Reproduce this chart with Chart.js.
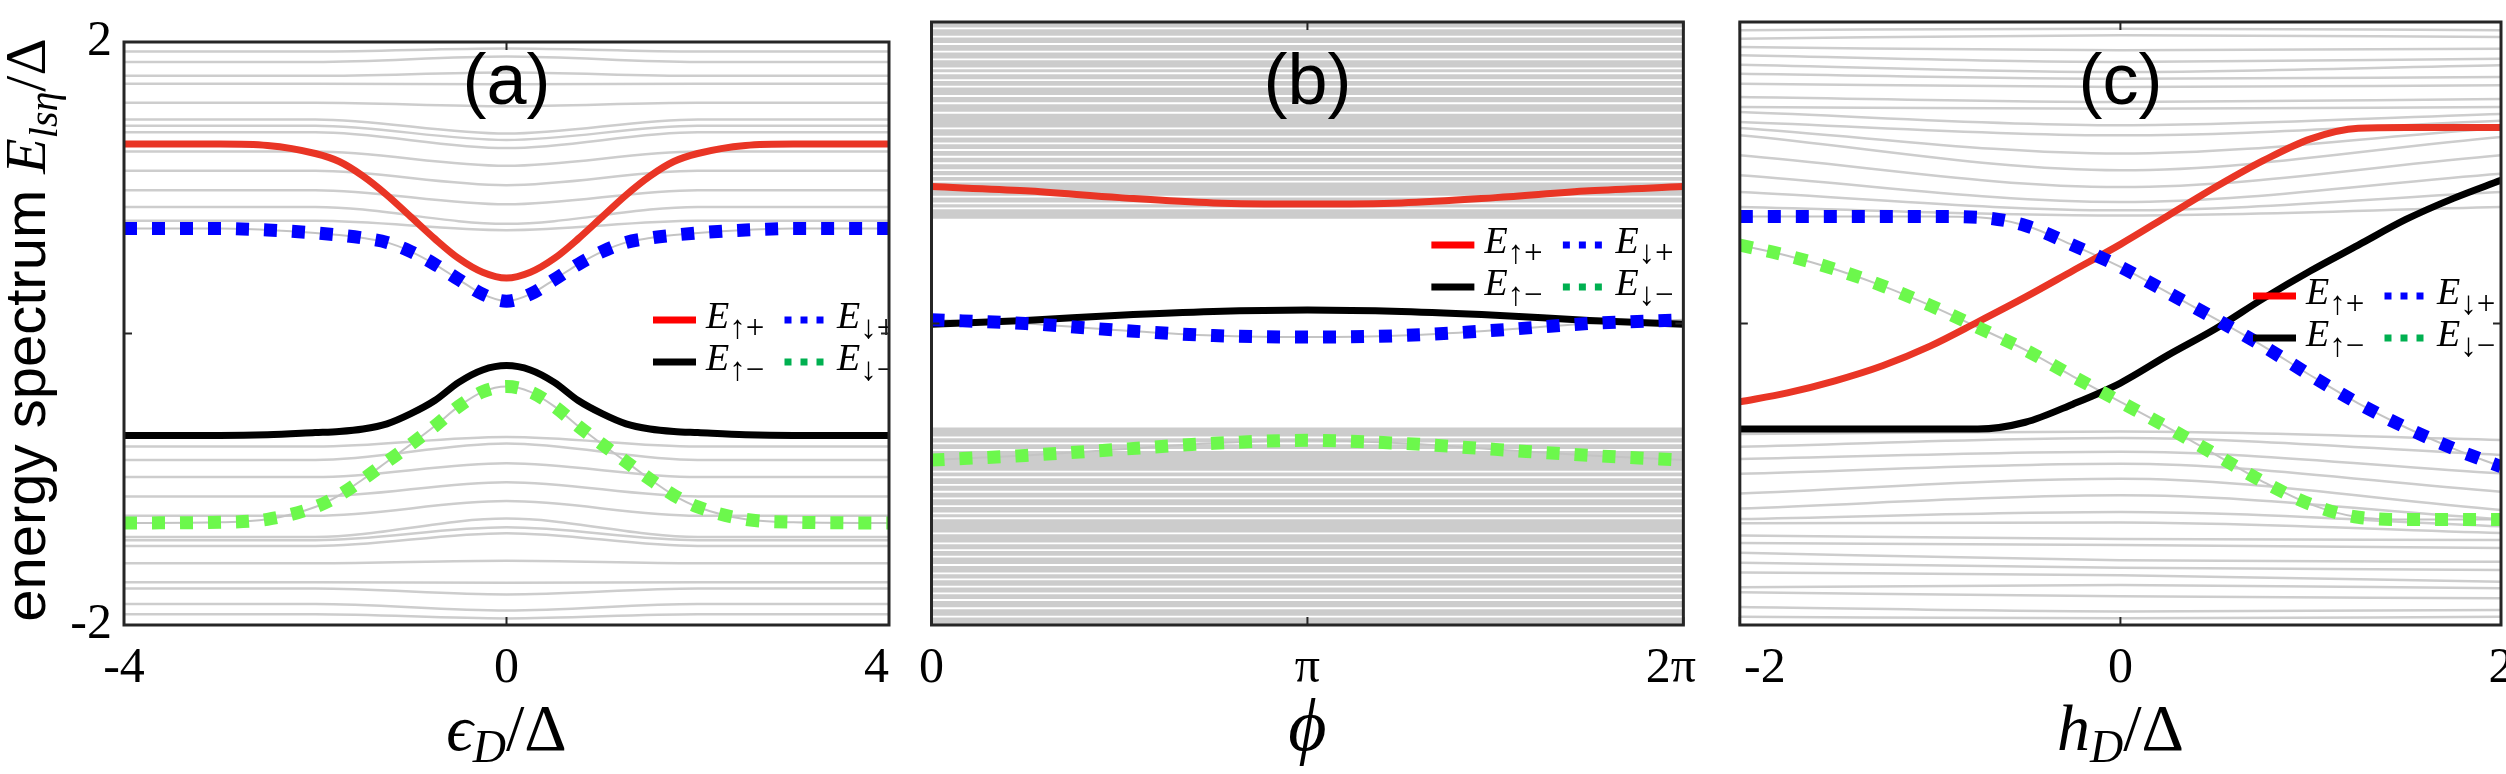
<!DOCTYPE html>
<html>
<head>
<meta charset="utf-8">
<script src="https://cdn.jsdelivr.net/npm/chart.js@4.4.1/dist/chart.umd.min.js"></script>
<style>
html, body { margin: 0; padding: 0; background: #fff; overflow: hidden; width: 2506px; height: 774px; }
canvas { position: absolute; top: 0; }
</style>
</head>
<body>
<canvas id="ca" width="950" height="774" style="left:0px"></canvas>
<canvas id="cb" width="830" height="774" style="left:905px"></canvas>
<canvas id="cc" width="865" height="774" style="left:1680px"></canvas>
<script>
// ---- panel (a): vs eps_D / Delta ----
var epsA   = [-4, -3, -2.5, -2, -1.75, -1.5, -1.25, -1, -0.75, -0.5, -0.25, 0, 0.25, 0.5, 0.75, 1, 1.25, 1.5, 1.75, 2, 2.5, 3, 4];
var redA   = [1.30, 1.30, 1.29, 1.235, 1.18, 1.08, 0.95, 0.80, 0.65, 0.515, 0.42, 0.38, 0.42, 0.515, 0.65, 0.80, 0.95, 1.08, 1.18, 1.235, 1.29, 1.30, 1.30];
var blueA  = [0.72, 0.72, 0.71, 0.69, 0.675, 0.655, 0.625, 0.562, 0.475, 0.37, 0.27, 0.222, 0.27, 0.37, 0.475, 0.562, 0.625, 0.655, 0.675, 0.69, 0.71, 0.72, 0.72];
var blackA = [-0.70, -0.70, -0.695, -0.68, -0.672, -0.655, -0.62, -0.55, -0.46, -0.335, -0.25, -0.22, -0.25, -0.335, -0.46, -0.55, -0.62, -0.655, -0.672, -0.68, -0.695, -0.70, -0.70];
var greenA = [-1.30, -1.295, -1.275, -1.19, -1.11, -1.00, -0.88, -0.76, -0.635, -0.50, -0.40, -0.364, -0.40, -0.50, -0.635, -0.76, -0.88, -1.00, -1.11, -1.19, -1.275, -1.295, -1.30];
// continuum levels (far from the dot level, and at eps_D = 0)
var grayStA     = [-4, -2, 0, 2, 4];
var grayAUpFar  = [1.934, 1.863, 1.768, 1.713, 1.584, 1.469, 1.425, 1.381, 1.248, 1.116, 0.983, 0.868, 0.773];
var grayAUpMid  = [1.955, 1.90, 1.79, 1.71, 1.56, 1.372, 1.328, 1.272, 1.151, 1.018, 0.886, 0.753, 0.709];
var grayALowFar = [-0.775, -0.868, -0.985, -1.118, -1.25, -1.396, -1.418, -1.458, -1.577, -1.706, -1.75, -1.856, -1.926];
var grayALowMid = [-0.71, -0.755, -0.89, -1.02, -1.15, -1.27, -1.33, -1.37, -1.56, -1.71, -1.79, -1.90, -1.955];
var xTicksA = [-4, 0, 4];
var xLabA   = ['-4', '0', '4'];

// ---- panel (b): vs phi ----
var phiB   = [0, 0.785, 1.571, 2.356, 3.142, 3.927, 4.712, 5.498, 6.283];
var redB   = [0.908, 0.88, 0.835, 0.80, 0.793, 0.80, 0.835, 0.88, 0.908];
var blackB = [-0.005, 0.02, 0.055, 0.08, 0.09, 0.08, 0.055, 0.02, -0.005];
var blueB  = [0.025, 0.0, -0.045, -0.08, -0.09, -0.08, -0.045, 0.0, 0.025];
var greenB = [-0.906, -0.875, -0.835, -0.795, -0.775, -0.795, -0.835, -0.875, -0.906];
var bandB  = [0.695, -0.69];
var gapUpB  = [1.958, 1.903, 1.854, 1.803, 1.752, 1.693, 1.660, 1.615, 1.571, 1.509, 1.461, 1.398, 1.295, 1.239, 1.195, 1.151, 1.106, 1.063, 1.018, 0.978, 0.941, 0.841, 0.797, 0.764];
var gapLowB = [-0.755, -0.795, -0.839, -0.983, -1.02, -1.071, -1.116, -1.16, -1.211, -1.259, -1.292, -1.392, -1.458, -1.503, -1.547, -1.602, -1.657, -1.697, -1.746, -1.79, -1.834, -1.889, -1.945];
var xTicksB = [0, 3.1416, 6.2832];
var xLabB   = ['0', 'π', '2π'];

// ---- panel (c): vs h_D / Delta ----
var hC     = [-2, -1.75, -1.5, -1.25, -1, -0.75, -0.5, -0.25, 0, 0.25, 0.5, 0.75, 1, 1.25, 1.5, 1.75, 2];
var redC   = [-0.52, -0.46, -0.38, -0.28, -0.15, 0.01, 0.175, 0.35, 0.525, 0.715, 0.905, 1.08, 1.225, 1.295, 1.30, 1.30, 1.30];
var blueC  = [0.71, 0.71, 0.71, 0.71, 0.71, 0.705, 0.65, 0.52, 0.375, 0.205, 0.03, -0.15, -0.345, -0.53, -0.69, -0.83, -0.95];
var blackC = [-0.70, -0.70, -0.70, -0.70, -0.70, -0.70, -0.655, -0.535, -0.395, -0.21, -0.035, 0.165, 0.35, 0.52, 0.69, 0.83, 0.95];
var greenC = [0.52, 0.45, 0.36, 0.25, 0.12, -0.025, -0.175, -0.35, -0.52, -0.69, -0.87, -1.05, -1.20, -1.285, -1.30, -1.30, -1.30];
var grayStC       = [-2, 0, 2];
var grayCUpLeft   = [1.945, 1.889, 1.834, 1.779, 1.717, 1.657, 1.591, 1.502, 1.436, 1.403, 1.337, 1.297, 1.248, 1.116, 0.983, 0.872, 0.773];
var grayCUpMid    = [1.956, 1.912, 1.812, 1.735, 1.668, 1.624, 1.569, 1.469, 1.425, 1.315, 1.248, 1.127, 1.016, 0.905, 0.806, 0.751, 0.717];
var grayCUpRight  = [1.945, 1.90, 1.823, 1.757, 1.713, 1.635, 1.58, 1.49, 1.436, 1.39, 1.345, 1.297, 1.237, 1.116, 0.994, 0.872, 0.773];
var grayCLowLeft  = [-0.733, -0.817, -0.899, -0.997, -1.128, -1.227, -1.297, -1.325, -1.406, -1.456, -1.52, -1.587, -1.652, -1.75, -1.783, -1.881, -1.945];
var grayCLowMid   = [-0.717, -0.76, -0.85, -0.93, -1.03, -1.14, -1.25, -1.32, -1.43, -1.47, -1.57, -1.62, -1.67, -1.735, -1.81, -1.91, -1.956];
var grayCLowRight = [-0.773, -0.872, -0.994, -1.116, -1.237, -1.297, -1.345, -1.39, -1.436, -1.49, -1.58, -1.635, -1.713, -1.757, -1.823, -1.90, -1.945];
var xTicksC = [-2, 0, 2];
var xLabC   = ['-2', '0', '2'];

var yTicks = [-2, 0, 2];
var yLabA  = ['-2', '', '2'];

var SERIF = "'Liberation Serif', 'DejaVu Serif', serif";
var SANS = "'Liberation Sans', Arial, sans-serif";
var RED = '#e93525', BLUE = '#0000ff', GREEN = '#6cf84c', GRAY = '#cdcdcd';

function xy(xs, ys) {
  var out = [];
  for (var i = 0; i < xs.length; i++) out.push({x: xs[i], y: ys[i]});
  return out;
}
// shift an edge label sideways with spaces (n > 0 pushes right, n < 0 pushes left)
function nudge(s, n) {
  var sp = new Array(Math.abs(n) * 2 + 1).join(' ');
  return n > 0 ? sp + s : n < 0 ? s + sp : s;
}
function grayLine(d) {
  return {data: d, borderColor: GRAY, borderWidth: 2.5, pointRadius: 0, cubicInterpolationMode: 'monotone', clip: 0, order: 5};
}
function whiteLine(d) {
  return {data: d, borderColor: '#ffffff', borderWidth: 1.8, pointRadius: 0, clip: 0, order: 5};
}
function thinLine(d) {
  return {data: d, borderColor: '#c4c4c4', borderWidth: 2, pointRadius: 0, cubicInterpolationMode: 'monotone', clip: 0, order: 3};
}
function solidLine(label, d, c) {
  return {label: label, data: d, borderColor: c, borderWidth: 7, pointRadius: 0, cubicInterpolationMode: 'monotone', clip: 0, order: 2};
}
function dotLine(label, d, c) {
  return {label: label, data: d, borderColor: c, borderWidth: 13, borderDash: [13, 15], borderCapStyle: 'butt',
          pointRadius: 0, cubicInterpolationMode: 'monotone', clip: 0, order: 1};
}

function drawParts(ctx, x, y, parts, align) {
  var w = 0;
  parts.forEach(function (p) { ctx.font = p.f; w += ctx.measureText(p.t).width; });
  var cx = align === 'center' ? x - w / 2 : x;
  ctx.textAlign = 'left';
  ctx.textBaseline = 'alphabetic';
  parts.forEach(function (p) {
    ctx.font = p.f;
    ctx.fillText(p.t, cx, y + (p.dy || 0));
    cx += ctx.measureText(p.t).width;
  });
}

var legendRows = [
  [{kind: 'solid', color: '#ff0000', sub: '↑+'}, {kind: 'dot', color: '#0000ff', sub: '↓+'}],
  [{kind: 'solid', color: '#000000', sub: '↑−'}, {kind: 'dot', color: '#00b050', sub: '↓−'}]
];
function drawLegend(ctx, x0, y0) {
  legendRows.forEach(function (row, r) {
    var y = y0 + r * 42;
    row.forEach(function (it, c) {
      var x = x0 + c * 131;
      ctx.save();
      ctx.strokeStyle = it.color;
      ctx.lineWidth = 7;
      ctx.beginPath();
      if (it.kind === 'solid') {
        ctx.moveTo(x, y); ctx.lineTo(x + 43, y);
      } else {
        ctx.setLineDash([7, 9]);
        ctx.moveTo(x + 0.5, y); ctx.lineTo(x + 40, y);
      }
      ctx.stroke();
      ctx.restore();
      ctx.fillStyle = '#000';
      drawParts(ctx, x + 53, y + 8, [
        {t: 'E', f: 'italic 38px ' + SERIF},
        {t: it.sub, f: '33px ' + SERIF, dy: 10}
      ], 'left');
    });
  });
}

function deco(o) {
  return {
    id: 'deco',
    afterDatasetsDraw: function (chart) {
      var ctx = chart.ctx, a = chart.chartArea, xs = chart.scales.x, ys = chart.scales.y;
      // legend, clipped to the axes
      ctx.save();
      ctx.beginPath();
      ctx.rect(a.left, a.top, a.right - a.left, a.bottom - a.top);
      ctx.clip();
      drawLegend(ctx, a.right + o.legendDX, o.legendY);
      ctx.restore();

      // panel letter
      ctx.save();
      ctx.fillStyle = '#000';
      ctx.font = '72px ' + SANS;
      ctx.textAlign = 'center';
      ctx.textBaseline = 'middle';
      ctx.fillText(o.panel, (a.left + a.right) / 2, 84);
      ctx.restore();

      // box + inward ticks
      ctx.save();
      ctx.strokeStyle = '#262626';
      ctx.lineWidth = 3;
      ctx.strokeRect(a.left, a.top, a.right - a.left, a.bottom - a.top);
      ctx.lineWidth = 2;
      ctx.beginPath();
      xs.ticks.forEach(function (t) {
        var px = xs.getPixelForValue(t.value);
        ctx.moveTo(px, a.bottom); ctx.lineTo(px, a.bottom - 8);
        ctx.moveTo(px, a.top); ctx.lineTo(px, a.top + 8);
      });
      ys.ticks.forEach(function (t) {
        var py = ys.getPixelForValue(t.value);
        ctx.moveTo(a.left, py); ctx.lineTo(a.left + 8, py);
        ctx.moveTo(a.right, py); ctx.lineTo(a.right - 8, py);
      });
      ctx.stroke();
      ctx.restore();

      // x title
      ctx.save();
      ctx.fillStyle = '#000';
      drawParts(ctx, (a.left + a.right) / 2, 750, o.xTitle, 'center');
      ctx.restore();

      // y title
      if (o.yTitle) {
        ctx.save();
        ctx.fillStyle = '#000';
        ctx.translate(45, 330);
        ctx.rotate(-Math.PI / 2);
        drawParts(ctx, 0, 0, o.yTitle, 'center');
        ctx.restore();
      }
    }
  };
}

function makeChart(id, o) {
  return new Chart(document.getElementById(id), {
    type: 'line',
    data: {datasets: o.datasets},
    options: {
      responsive: false,
      animation: false,
      events: [],
      layout: {padding: {top: 22, right: o.padRight, left: 0, bottom: 0}},
      plugins: {legend: {display: false}, tooltip: {enabled: false}},
      scales: {
        x: {
          type: 'linear', min: o.xMin, max: o.xMax,
          grid: {display: false, drawTicks: false}, border: {display: false},
          afterBuildTicks: function (s) { s.ticks = o.xTicks.map(function (v) { return {value: v}; }); },
          afterFit: function (s) { s.height = 149; },
          ticks: {autoSkip: false, maxRotation: 0, padding: 14, color: '#000',
                  font: {family: SERIF, size: 50},
                  callback: function (v, i) { return nudge(o.xLabels[i], o.xNudge[i]); }}
        },
        y: {
          type: 'linear', min: -2, max: 2,
          grid: {display: false, drawTicks: false}, border: {display: false},
          afterBuildTicks: function (s) { s.ticks = yTicks.map(function (v) { return {value: v}; }); },
          afterFit: function (s) { s.width = o.yWidth; },
          ticks: {display: !!o.yLabels, padding: 12, color: '#000',
                  font: {family: SERIF, size: 50},
                  callback: function (v, i) { return o.yLabels ? o.yLabels[i] : ''; }}
        }
      }
    },
    plugins: [deco(o)]
  });
}

// ---------- build panel (a)
var dsA = [];
grayAUpFar.forEach(function (f, i) { dsA.push(grayLine(xy(grayStA, [f, f, grayAUpMid[i], f, f]))); });
grayALowFar.forEach(function (f, i) { dsA.push(grayLine(xy(grayStA, [f, f, grayALowMid[i], f, f]))); });
dsA.push(thinLine(xy(epsA, blueA)), thinLine(xy(epsA, greenA)));
dsA.push(solidLine('E↑+', xy(epsA, redA), RED), solidLine('E↑−', xy(epsA, blackA), '#000'));
dsA.push(dotLine('E↓+', xy(epsA, blueA), BLUE), dotLine('E↓−', xy(epsA, greenA), GREEN));

makeChart('ca', {
  datasets: dsA, xMin: -4, xMax: 4, xTicks: xTicksA, xLabels: xLabA, xNudge: [0, 0, -1],
  yWidth: 124, padRight: 61, yLabels: yLabA,
  panel: '(a)', legendDX: -236, legendY: 320,
  xTitle: [{t: 'ϵ', f: 'italic 66px ' + SERIF}, {t: 'D', f: 'italic 46px ' + SERIF, dy: 12}, {t: '/Δ', f: '66px ' + SERIF}],
  yTitle: [{t: 'energy spectrum ', f: '58px ' + SANS}, {t: 'E', f: 'italic 58px ' + SERIF},
           {t: 'lsη', f: 'italic 40px ' + SERIF, dy: 12}, {t: '/Δ', f: '58px ' + SERIF}]
});

// ---------- build panel (b)
var dsB = [];
dsB.push({data: xy([0, 6.2832], [bandB[0], bandB[0]]), fill: 'end', backgroundColor: '#cccccc', borderWidth: 0, pointRadius: 0, clip: 0, order: 7});
dsB.push({data: xy([0, 6.2832], [bandB[1], bandB[1]]), fill: 'start', backgroundColor: '#cccccc', borderWidth: 0, pointRadius: 0, clip: 0, order: 7});
gapUpB.forEach(function (g) { dsB.push(whiteLine(xy([0, 6.2832], [g, g]))); });
gapLowB.forEach(function (g) { dsB.push(whiteLine(xy([0, 6.2832], [g, g]))); });
dsB.push(thinLine(xy(phiB, blueB)), thinLine(xy(phiB, greenB)));
dsB.push(solidLine('E↑+', xy(phiB, redB), RED), solidLine('E↑−', xy(phiB, blackB), '#000'));
dsB.push(dotLine('E↓+', xy(phiB, blueB), BLUE), dotLine('E↓−', xy(phiB, greenB), GREEN));

makeChart('cb', {
  datasets: dsB, xMin: 0, xMax: 6.2832, xTicks: xTicksB, xLabels: xLabB, xNudge: [0, 0, -1],
  yWidth: 25, padRight: 40, yLabels: null,
  panel: '(b)', legendDX: -252, legendY: 245,
  xTitle: [{t: 'ϕ', f: 'italic 74px ' + SERIF}]
});

// ---------- build panel (c)
var dsC = [];
grayCUpLeft.forEach(function (l, i) { dsC.push(grayLine(xy(grayStC, [l, grayCUpMid[i], grayCUpRight[i]]))); });
grayCLowLeft.forEach(function (l, i) { dsC.push(grayLine(xy(grayStC, [l, grayCLowMid[i], grayCLowRight[i]]))); });
dsC.push(thinLine(xy(hC, blueC)), thinLine(xy(hC, greenC)));
dsC.push(solidLine('E↑+', xy(hC, redC), RED), solidLine('E↑−', xy(hC, blackC), '#000'));
dsC.push(dotLine('E↓+', xy(hC, blueC), BLUE), dotLine('E↓−', xy(hC, greenC), GREEN));

makeChart('cc', {
  datasets: dsC, xMin: -2, xMax: 2, xTicks: xTicksC, xLabels: xLabC, xNudge: [2, 0, 0],
  yWidth: 54, padRight: 44, yLabels: null,
  panel: '(c)', legendDX: -248, legendY: 296,
  xTitle: [{t: 'h', f: 'italic 66px ' + SERIF}, {t: 'D', f: 'italic 46px ' + SERIF, dy: 12}, {t: '/Δ', f: '66px ' + SERIF}]
});
</script>
</body>
</html>
